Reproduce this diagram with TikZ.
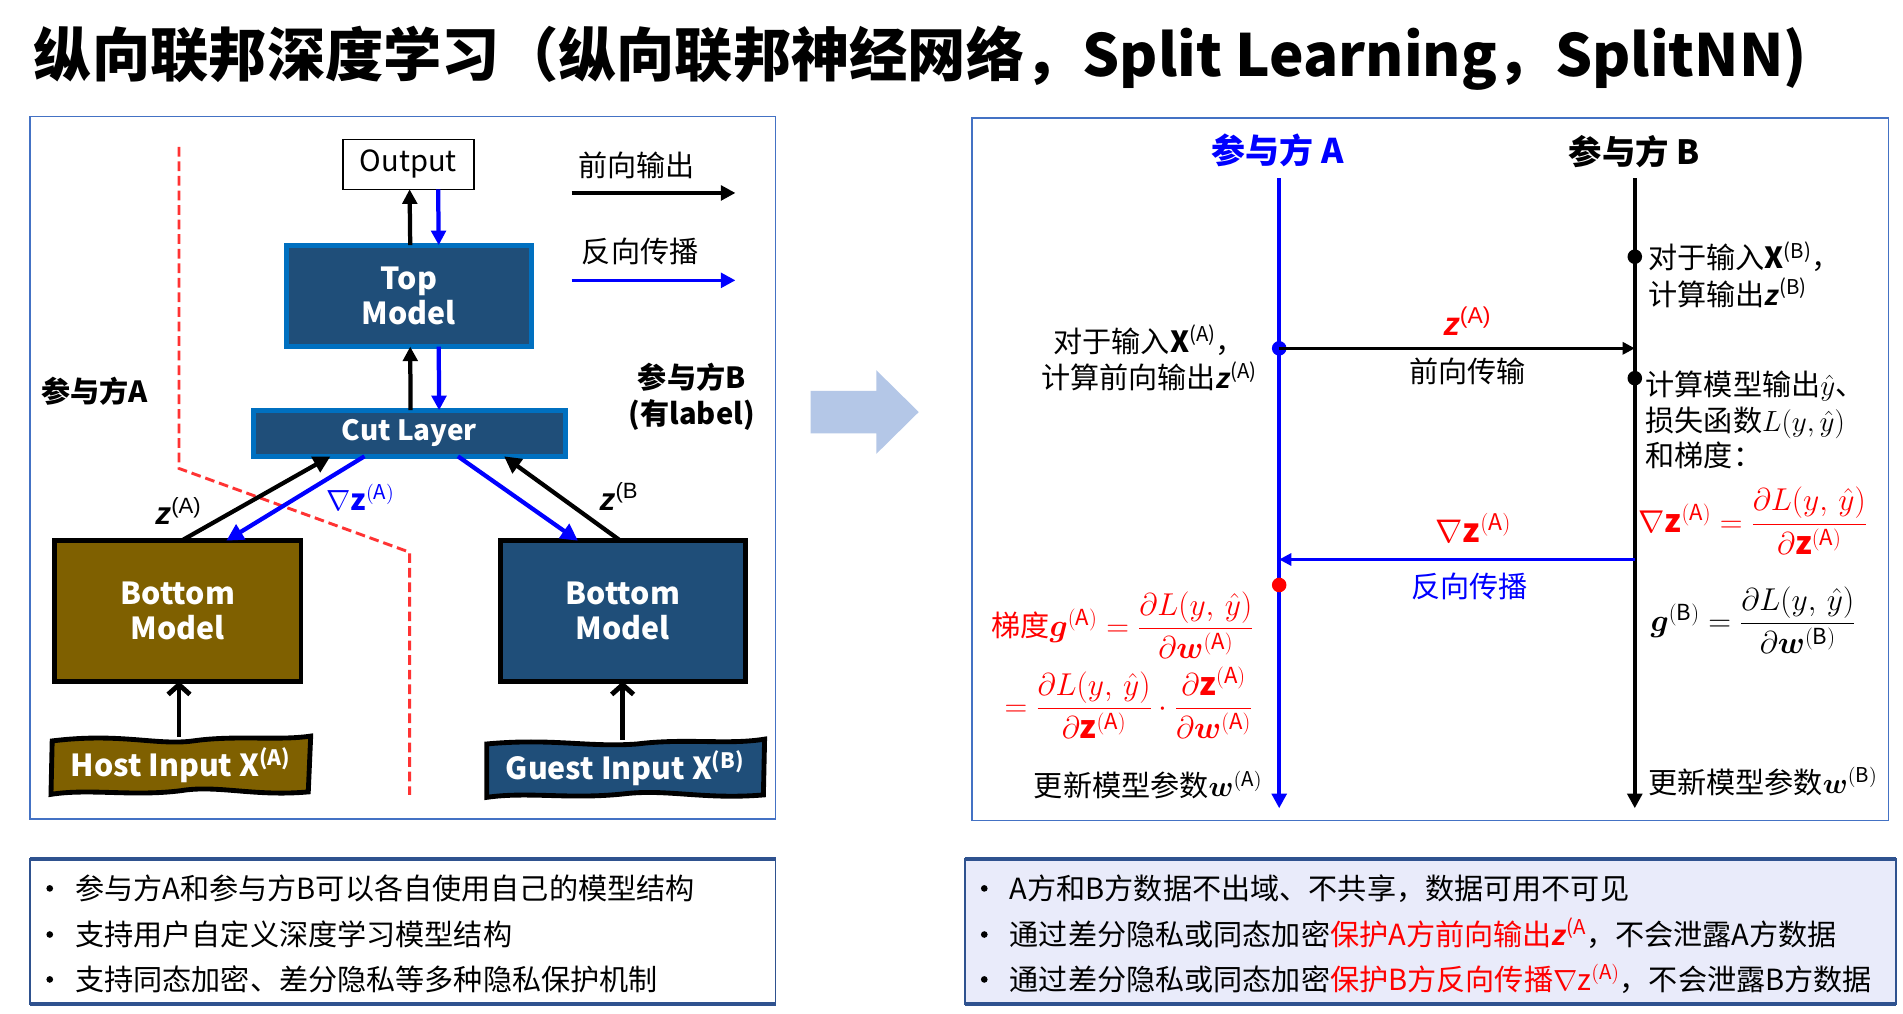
\RequirePackage{fix-cm}
\documentclass[tikz,border=0pt]{standalone}
\usepackage{amsmath,bm}
\usepackage{fontspec}
\setmainfont{Noto Sans CJK SC}
\newfontfamily\zfont{Liberation Sans}
\usetikzlibrary{arrows.meta,calc}
\definecolor{pblue}{HTML}{4472C4}
\definecolor{mblue}{HTML}{0070C0}
\definecolor{mfill}{HTML}{1F4E79}
\definecolor{bolive}{HTML}{7F6000}
\definecolor{bbord}{HTML}{2F528F}
\definecolor{lav}{HTML}{E9EBFA}
\definecolor{dred}{HTML}{FF3333}
\definecolor{agray}{HTML}{B4C7E7}
\newcommand\fsz[2]{\fontsize{#1}{#2}\selectfont}
\newcommand\zit{{\zfont\bfseries\itshape z}}
\newcommand\Lyy{L(y,\,\hat{y})}
\tikzset{
  panel/.style={draw=pblue, line width=1.5pt},
  outbox/.style={draw=black, line width=1.3pt, fill=white, font=\fsz{24}{28}},
  model/.style={draw=mblue, line width=4pt, fill=mfill, text=white, align=center, font=\fsz{25}{29}\bfseries},
  bmodel/.style={draw=black, line width=4pt, text=white, align=center, font=\fsz{25}{29}\bfseries},
  farr/.style={line width=3.5pt, -{Triangle[length=12pt,width=12pt]}},
  barr/.style={farr, draw=blue},
  sarr/.style={line width=3.5pt, -{Triangle[length=14pt,width=14pt]}},
  inarr/.style={line width=4pt, -{Straight Barb[length=8pt,width=18pt]}},
  inbox/.style={draw=black, line width=4pt},
  reddash/.style={draw=dred, line width=2.4pt, dash pattern=on 8pt off 4pt},
  lbl/.style={font=\fsz{24}{28}\bfseries},
  rtext/.style={font=\fsz{24}{30}, align=left},
  dotb/.style={circle, fill=black, minimum size=12pt},
  vline/.style={line width=3pt, -{Triangle[length=12pt,width=12pt]}},
  harr/.style={line width=2.3pt, -{Triangle[length=10pt,width=10pt]}},
  bul/.style={font=\fsz{24}{28}, anchor=base west},
  bdot/.style={circle, fill=black, minimum size=5.5pt},
  mth/.style={font=\fsz{26}{30}},
  infobox/.style={draw=bbord, line width=1.5pt}
}
\begin{document}
\begin{tikzpicture}[x=1pt,y=-1pt, every node/.style={inner sep=0pt, outer sep=0pt}]
\useasboundingbox (0,0) rectangle (1568,834.7);
\fill[white] (0,0) rectangle (1568,834.7);
% title
\node[anchor=base west, font=\fsz{48}{56}\bfseries] (title) at (28,63) {纵向联邦深度学习（纵向联邦神经网络，Split Learning，SplitNN)};

% ---------- left panel ----------
\draw[panel] (25,96) rectangle (639,675);
\draw[reddash] (147.5,121) -- (147.5,386) -- (337.5,455) -- (337.5,655);

\node[outbox, minimum width=108pt, minimum height=41pt] (out) at (336.5,135.5) {Output};
\node[model, minimum width=202pt, minimum height=83.6pt] (top) at (337,243.8) {Top\\Model};
\node[model, minimum width=256.6pt, minimum height=38pt, font=\fsz{23}{27}\bfseries] (cut) at (337.3,357) {Cut Layer};
\node[bmodel, fill=bolive, minimum width=203pt, minimum height=116pt] (botA) at (146.5,503.5) {Bottom\\Model};
\node[bmodel, fill=mfill, minimum width=201.5pt, minimum height=116pt] (botB) at (513.2,503.5) {Bottom\\Model};

\draw[farr] ([xshift=1pt]top.north) -- ([xshift=1pt]out.south);
\draw[barr] ([xshift=24.5pt]out.south) -- ([xshift=24.5pt]top.north);
\draw[farr] ([xshift=1pt]cut.north) -- ([xshift=1pt]top.south);
\draw[barr] ([xshift=24.5pt]top.south) -- ([xshift=24.5pt]cut.north);

\draw[sarr] ([xshift=3pt]botA.north) -- ([xshift=-65pt]cut.south);
\draw[sarr, draw=blue] ([xshift=-37pt]cut.south) -- ([xshift=40pt]botA.north);
\draw[sarr, draw=blue] ([xshift=40pt]cut.south) -- ([xshift=-37pt]botB.north);
\draw[sarr] ([xshift=-2pt]botB.north) -- ([xshift=78pt]cut.south);

\node[font=\fsz{26}{30}] (zA) at (147,421) {\zit\textsuperscript{\zfont(A)}};
\node[text=blue, font=\fsz{24}{28}] (gzA) at (297,410) {$\nabla\mathbf{z}^{(\mathrm{A})}$};
\node[font=\fsz{26}{30}] (zB) at (510,409) {\zit\textsuperscript{\zfont(B}};

\node[lbl] (pA) at (78,322) {参与方A};
\node[lbl, align=center, font=\fsz{24}{29}\bfseries] (pB) at (570,327) {参与方B\\(有label)};

% legend
\node[font=\fsz{24}{28}] (lf) at (524.5,136) {前向输出};
\node[font=\fsz{24}{28}] (lb) at (527.5,207) {反向传播};
\coordinate (lf1) at (471,159);
\coordinate (lf2) at (606,159);
\coordinate (lb1) at (471,231);
\coordinate (lb2) at (606,231);
\draw[line width=3pt, -{Triangle[length=12pt,width=12pt]}] (lf1) -- (lf2);
\draw[line width=3pt, draw=blue, -{Triangle[length=12pt,width=12pt]}] (lb1) -- (lb2);

% inputs
\draw[inbox, fill=bolive, shift={(149,630.5)}] (-106,-20) .. controls (-50,-27) and (-20,-16) .. (10,-20) .. controls (45,-25) and (80,-20) .. (107,-24) -- (105,22) .. controls (60,26) and (30,16) .. (0,21) .. controls (-40,26) and (-75,19) .. (-107,24) -- cycle;
\node[text=white, font=\fsz{25}{29}\bfseries, minimum height=47pt] (hostin) at (149,630.5) {Host Input X\textsuperscript{(A)}};
\draw[inbox, fill=mfill, shift={(515,633)}] (-114,-20) .. controls (-60,-25) and (-30,-17) .. (10,-20) .. controls (50,-25) and (85,-19) .. (115,-24) -- (114,22) .. controls (65,26) and (35,17) .. (0,21) .. controls (-45,26) and (-80,19) .. (-114,24) -- cycle;
\node[text=white, font=\fsz{25}{29}\bfseries, minimum height=47pt] (guestin) at (515,633) {Guest Input X\textsuperscript{(B)}};
\draw[inarr] ([xshift=-1.5pt]hostin.north) -- ([xshift=-1.5pt]hostin.north |- botA.south);
\draw[inarr] ([xshift=-2pt]guestin.north) -- ([xshift=-2pt]guestin.north |- botB.south);

% big arrow
\fill[agray] (668,322) -- (722,322) -- (722,305) -- (757,339.5) -- (722,374) -- (722,357) -- (668,357) -- cycle;

% ---------- right panel ----------
\draw[panel] (801,97) rectangle (1556,676);
\node[font=\fsz{28}{32}\bfseries, text=blue] (hA) at (1053,124) {参与方 A};
\node[font=\fsz{27.5}{32}\bfseries] (hB) at (1346.5,125) {参与方 B};
\coordinate (a0) at (1054,147);
\coordinate (a1) at (1054,666);
\coordinate (b0) at (1347,147);
\coordinate (b1) at (1347,666);
\draw[vline, draw=blue] (a0) -- (a1);
\draw[vline] (b0) -- (b1);
\node[dotb] (db1) at (1347,211.5) {};
\node[dotb] (db2) at (1347,311.6) {};
\node[dotb, fill=blue] (da1) at (1054,287) {};
\node[dotb, fill=red] (da2) at (1054,482) {};
\coordinate (fw) at (1347,287);
\draw[harr] (da1.center) -- (fw);
\coordinate (bw0) at (1347,461);
\coordinate (bw1) at (1054,461);
\draw[harr, draw=blue] (bw0) -- (bw1);

\node[text=red, font=\fsz{27}{30}] (fz) at (1209,265) {\zit\textsuperscript{\zfont(A)}};
\node[font=\fsz{24}{28}] (fwt) at (1209,306) {前向传输};
\node[text=red, font=\fsz{27}{30}] (bz) at (1214,435) {$\nabla\mathbf{z}^{(\mathrm{A})}$};
\node[text=blue, font=\fsz{24}{28}] (bwt) at (1211,483) {反向传播};

\node[rtext, align=center] (tA) at (947,295) {对于输入\textbf{X}\textsuperscript{(A)}，\\计算前向输出\zit\textsuperscript{(A)}};
\node[rtext, anchor=north west] (tB1) at (1358,199) {对于输入\textbf{X}\textsuperscript{(B)}，\\计算输出\zit\textsuperscript{(B)}};
\node[rtext, anchor=north west, font=\fsz{24}{29}] (tB2) at (1356,306) {计算模型输出$\hat{y}$、\\损失函数$L(y,\hat{y})$\\和梯度：};

\node[text=red, anchor=west, mth] (fB1) at (1350,429) {$\nabla\mathbf{z}^{(\mathrm{A})} = \dfrac{\partial \Lyy}{\partial \mathbf{z}^{(\mathrm{A})}}$};
\node[anchor=west, mth] (fB2) at (1360,511) {$\bm{g}^{(\mathrm{B})} = \dfrac{\partial \Lyy}{\partial \bm{w}^{(\mathrm{B})}}$};
\node[anchor=west, font=\fsz{24}{28}] (uB) at (1358,644) {更新模型参数$\bm{w}^{(\mathrm{B})}$};

\node[text=red, anchor=east, mth] (fA1) at (1033,515) {{\fsz{24}{28}梯度}$\bm{g}^{(\mathrm{A})} = \dfrac{\partial \Lyy}{\partial \bm{w}^{(\mathrm{A})}}$};
\node[text=red, anchor=east, mth] (fA2) at (1032,579) {$= \dfrac{\partial \Lyy}{\partial \mathbf{z}^{(\mathrm{A})}}\cdot\dfrac{\partial \mathbf{z}^{(\mathrm{A})}}{\partial \bm{w}^{(\mathrm{A})}}$};
\node[anchor=east, font=\fsz{24}{28}] (uA) at (1040,647) {更新模型参数$\bm{w}^{(\mathrm{A})}$};

% ---------- bottom info boxes ----------
\node[infobox, minimum width=614pt, minimum height=119pt] (il) at (332,767.5) {};
\draw[draw=bbord, line width=3.5pt] (il.north west) -- (il.north east);
\draw[draw=bbord, line width=3.5pt] (il.south west) -- (il.south east);
\node[infobox, fill=lav, minimum width=767pt, minimum height=119pt] (ir) at (1178.5,767.5) {};
\draw[draw=bbord, line width=3.5pt] (ir.north west) -- (ir.north east);
\draw[draw=bbord, line width=3.5pt] (ir.south west) -- (ir.south east);

\node[bdot] (l1d) at (41,732) {};
\node[bul] (l1) at (62,741) {参与方A和参与方B可以各自使用自己的模型结构};
\node[bdot] (l2d) at (41,770) {};
\node[bul] (l2) at (62,779) {支持用户自定义深度学习模型结构};
\node[bdot] (l3d) at (41,807) {};
\node[bul] (l3) at (62,816) {支持同态加密、差分隐私等多种隐私保护机制};

\node[bdot] (r1d) at (811,732) {};
\node[bul] (r1) at (832,741) {A方和B方数据不出域、不共享，数据可用不可见};
\node[bdot] (r2d) at (811,770) {};
\node[bul] (r2) at (832,779) {通过差分隐私或同态加密\textcolor{red}{保护A方前向输出\zit\textsuperscript{(A}}，不会泄露A方数据};
\node[bdot] (r3d) at (811,807) {};
\node[bul] (r3) at (832,816) {通过差分隐私或同态加密\textcolor{red}{保护B方反向传播$\nabla\mathrm{z}^{(\mathrm{A})}$}，不会泄露B方数据};
\end{tikzpicture}
\end{document}
